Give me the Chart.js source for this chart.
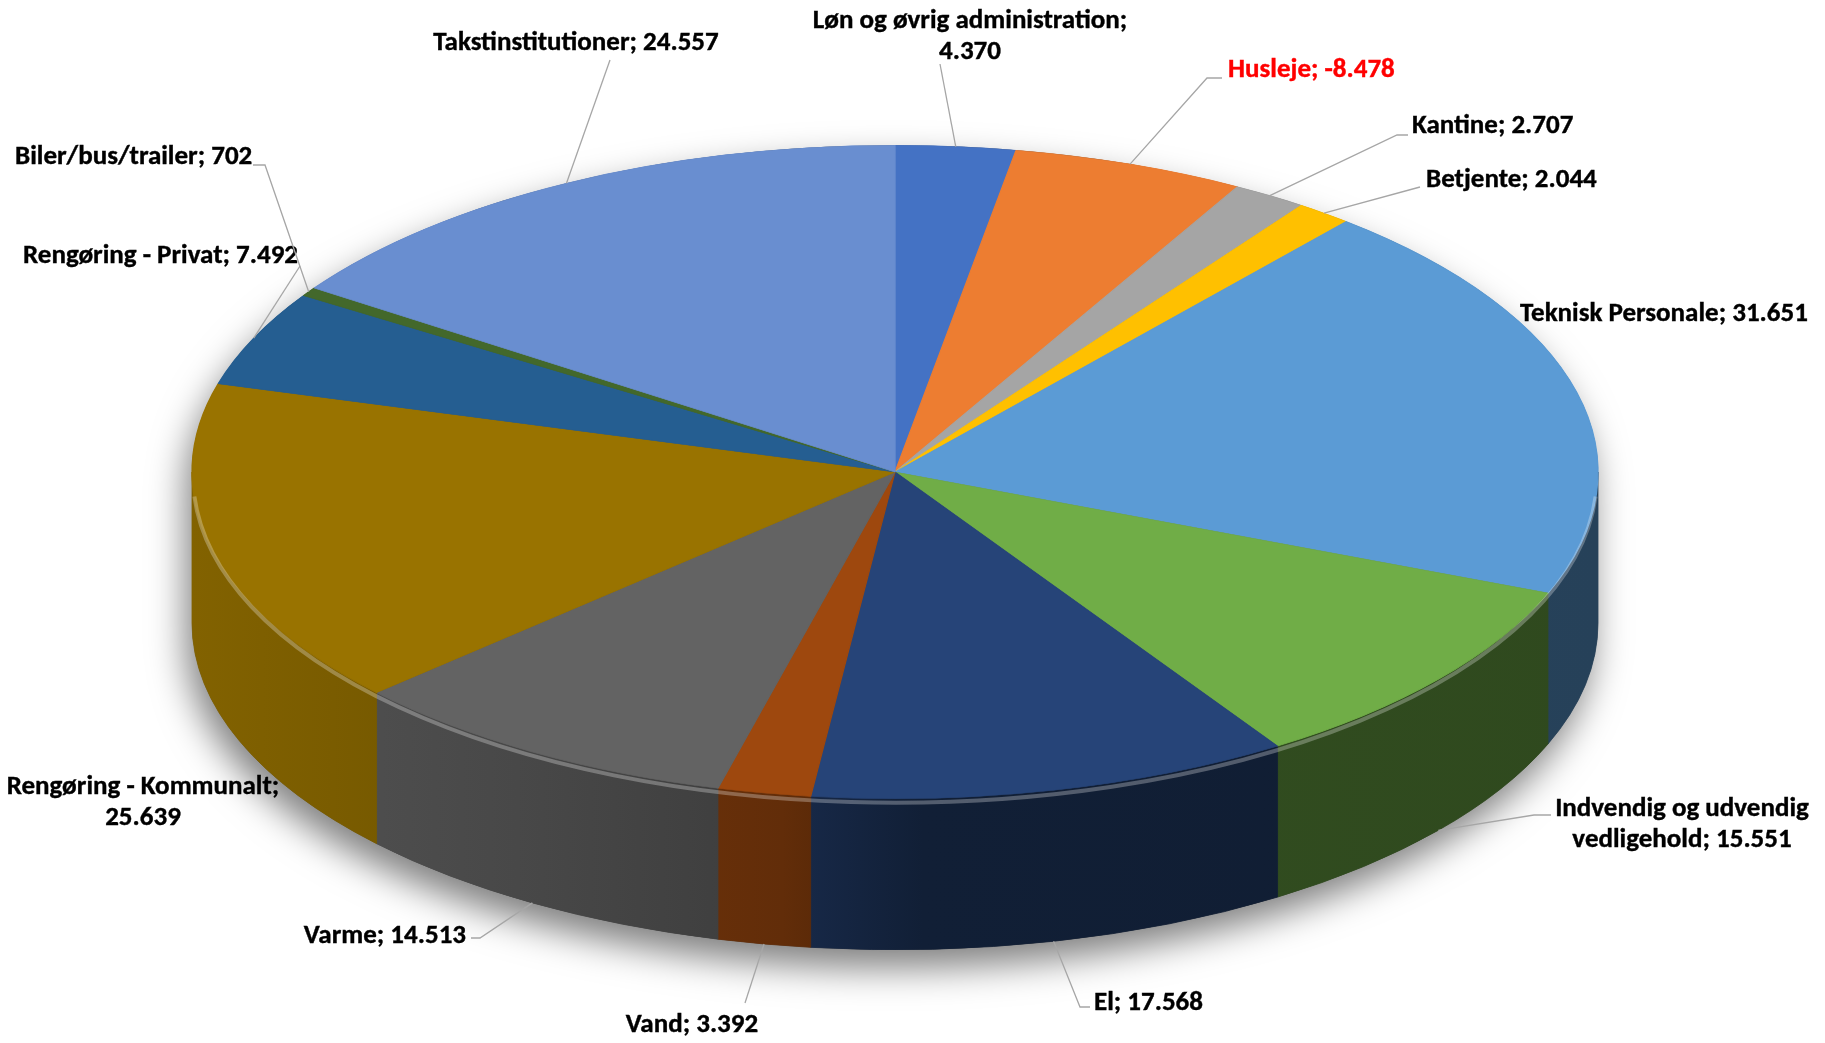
<!DOCTYPE html>
<html>
<head>
<meta charset="utf-8">
<script src="https://cdn.jsdelivr.net/npm/chart.js@4.4.0/dist/chart.umd.min.js"></script>
<style>
    html, body { margin: 0; padding: 0; background: #fff; }
    #wrap { width: 1825px; height: 1043px; }
</style>
</head>
<body>
<div id="wrap"><canvas id="chart" width="1825" height="1043"></canvas></div>
<script>
// Udgifter fordelt pr. post (3D-lagkage)
const categories = [
    'Løn og øvrig administration', 'Husleje', 'Kantine', 'Betjente',
    'Teknisk Personale', 'Indvendig og udvendig vedligehold', 'El', 'Vand',
    'Varme', 'Rengøring - Kommunalt', 'Rengøring - Privat', 'Biler/bus/trailer',
    'Takstinstitutioner'
];
const amounts = [4370, -8478, 2707, 2044, 31651, 15551, 17568, 3392, 14513, 25639, 7492, 702, 24557];
const sliceColors = [
    '#4472C4', '#ED7D31', '#A5A5A5', '#FFC000', '#5B9BD5', '#70AD47', '#264478',
    '#9E480E', '#636363', '#997300', '#255E91', '#43682B', '#698ED0'
];

// Label placement (text position, alignment, line break and leader path)
const labelLayout = [
    { x: 970, y: 21, align: 'center', br: 4, leader: [[940, 64]] },
    { x: 1228, y: 70, align: 'left', leader: [[1207, 78], [1222, 78]], color: '#FF0000' },
    { x: 1412, y: 126, align: 'left', leader: [[1397, 135], [1408, 135]] },
    { x: 1426, y: 180, align: 'left', leader: [[1420, 187]] },
    { x: 1520, y: 314, align: 'left', leader: null },
    { x: 1682, y: 809, align: 'center', br: 3, leader: [[1534, 815], [1551, 815]] },
    { x: 1094, y: 1003, align: 'left', leader: [[1080, 1007], [1090, 1007]] },
    { x: 692, y: 1025, align: 'center', leader: [[745, 1003]] },
    { x: 466, y: 936, align: 'right', leader: [[480, 938], [471, 938]] },
    { x: 143, y: 787, align: 'center', br: 3, leader: null },
    { x: 23, y: 256, align: 'left', leader: [[300, 266]] },
    { x: 15, y: 157, align: 'left', leader: [[265, 165], [253, 165]] },
    { x: 576, y: 43, align: 'center', leader: [[610, 60]] }
];

const DEPTH = 151;
const LABEL_FONT = 'bold 27px Carlito, Lato, "Open Sans", sans-serif';
const LINE_H = 31;

function fmt(v) {
    const s = String(Math.abs(v)).replace(/\B(?=(\d{3})+(?!\d))/g, '.');
    return (v < 0 ? '-' : '') + s;
}

function shade(hex, f) {
    const n = parseInt(hex.slice(1), 16);
    const r = Math.round(((n >> 16) & 255) * f);
    const g = Math.round(((n >> 8) & 255) * f);
    const b = Math.round((n & 255) * f);
    return `rgb(${r},${g},${b})`;
}

function geom(chart) {
    const arc = chart.getDatasetMeta(0).data[0];
    return { cx: arc.x, cy: arc.y, rx: chart.chartArea.width / 2, ry: arc.outerRadius };
}

// Side walls + tilt of the top face
const pie3d = {
    id: 'pie3d',
    beforeDatasetsDraw(chart) {
        const ctx = chart.ctx;
        const { cx, cy, rx, ry } = geom(chart);
        const meta = chart.getDatasetMeta(0);

        // soft shadow under the cake
        ctx.save();
        ctx.beginPath();
        ctx.ellipse(cx, cy + DEPTH, rx, ry, 0, 0, Math.PI);
        ctx.ellipse(cx, cy, rx, ry, 0, Math.PI, 2 * Math.PI);
        ctx.closePath();
        ctx.shadowColor = 'rgba(0,0,0,0.5)';
        ctx.shadowBlur = 36;
        ctx.shadowOffsetX = -6;
        ctx.shadowOffsetY = 18;
        ctx.fillStyle = '#444';
        ctx.fill();
        ctx.restore();

        meta.data.forEach((arc, i) => {
            const a0 = Math.max(arc.startAngle, 0);
            const a1 = Math.min(arc.endAngle, Math.PI);
            if (a1 <= a0) return;
            const col = sliceColors[i];
            const g = ctx.createLinearGradient(cx - rx, 0, cx + rx, 0);
            g.addColorStop(0, shade(col, 0.85));
            g.addColorStop(0.25, shade(col, 0.72));
            g.addColorStop(0.42, shade(col, 0.62));
            g.addColorStop(0.52, shade(col, 0.45));
            g.addColorStop(1, shade(col, 0.42));
            ctx.beginPath();
            ctx.ellipse(cx, cy, rx, ry, 0, a0, a1);
            ctx.ellipse(cx, cy + DEPTH, rx, ry, 0, a1, a0, true);
            ctx.closePath();
            ctx.fillStyle = g;
            ctx.strokeStyle = g;
            ctx.lineWidth = 0.8;
            ctx.fill();
            ctx.stroke();
        });

        // stretch the circle into the flat ellipse of the top face
        ctx.save();
        ctx.translate(cx, cy);
        ctx.scale(rx / ry, 1);
        ctx.translate(-cx, -cy);
    },
    afterDatasetsDraw(chart) {
        const ctx = chart.ctx;
        ctx.restore();
        const { cx, cy, rx, ry } = geom(chart);
        // light bevel along the front rim
        ctx.save();
        ctx.beginPath();
        ctx.ellipse(cx, cy + 4, rx - 1, ry, 0, 0.02 * Math.PI, 0.98 * Math.PI);
        ctx.strokeStyle = 'rgba(255,255,255,0.28)';
        ctx.lineWidth = 4;
        ctx.stroke();
        ctx.restore();
    }
};

// Data labels with leader lines
const pieLabels = {
    id: 'pieLabels',
    afterDraw(chart) {
        const ctx = chart.ctx;
        const { cx, cy, rx, ry } = geom(chart);
        const meta = chart.getDatasetMeta(0);
        ctx.save();
        meta.data.forEach((arc, i) => {
            const lay = labelLayout[i];
            const mid = (arc.startAngle + arc.endAngle) / 2;
            let ax = cx + rx * Math.cos(mid);
            let ay = cy + ry * Math.sin(mid);
            if (Math.sin(mid) > 0) ay += DEPTH;

            if (lay.leader) {
                ctx.beginPath();
                ctx.moveTo(ax, ay);
                lay.leader.forEach(p => ctx.lineTo(p[0], p[1]));
                ctx.strokeStyle = '#A6A6A6';
                ctx.lineWidth = 1.3;
                ctx.stroke();
            }

            const text = categories[i] + '; ' + fmt(amounts[i]);
            let lines = [text];
            if (lay.br) {
                const words = text.split(' ');
                lines = [words.slice(0, lay.br).join(' '), words.slice(lay.br).join(' ')];
            }
            ctx.font = LABEL_FONT;
            ctx.fillStyle = lay.color || '#000';
            ctx.strokeStyle = lay.color || '#000';
            ctx.lineWidth = 0.4;
            ctx.textAlign = lay.align;
            ctx.textBaseline = 'middle';
            lines.forEach((ln, k) => {
                ctx.fillText(ln, lay.x, lay.y + k * LINE_H);
                ctx.strokeText(ln, lay.x, lay.y + k * LINE_H);
            });
        });
        ctx.restore();
    }
};

new Chart(document.getElementById('chart'), {
    type: 'pie',
    data: {
        labels: categories,
        datasets: [{
            data: amounts,
            backgroundColor: sliceColors,
            borderColor: sliceColors,
            borderWidth: 0.6,
            clip: false
        }]
    },
    options: {
        responsive: false,
        animation: false,
        events: [],
        layout: {
            padding: { left: 192, right: 227, top: 145, bottom: 244 }
        },
        plugins: {
            legend: { display: false },
            tooltip: { enabled: false }
        }
    },
    plugins: [pie3d, pieLabels]
});
</script>
</body>
</html>
